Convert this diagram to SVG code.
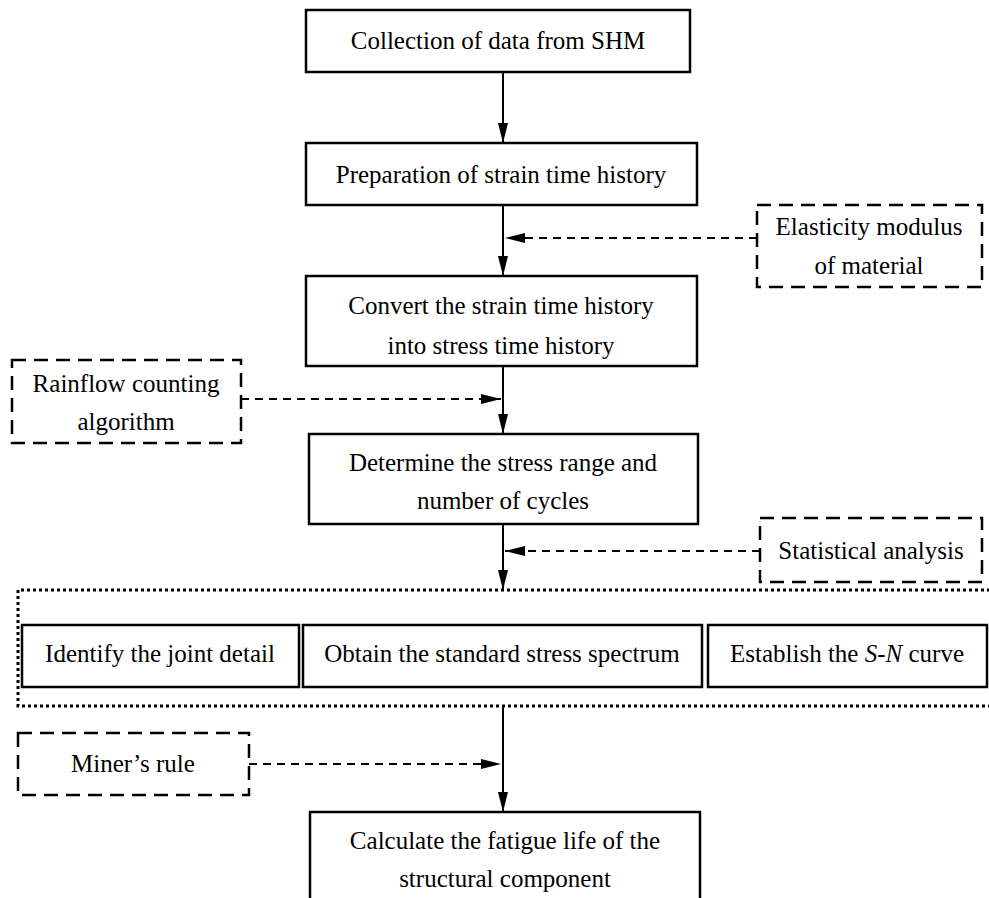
<svg xmlns="http://www.w3.org/2000/svg" width="989" height="898" viewBox="0 0 989 898">
<style>
  .box{fill:#fff;stroke:#000;stroke-width:2.5}
  .dbox{fill:none;stroke:#000;stroke-width:2.5;stroke-dasharray:14 8}
  .dot{fill:none;stroke:#000;stroke-width:3;stroke-dasharray:3 3}
  .t{font-family:"Liberation Serif","Times New Roman",serif;font-size:25px;fill:#000;text-anchor:middle}
  .solid{stroke:#000;stroke-width:2;fill:none}
  .dash{stroke:#000;stroke-width:2;fill:none;stroke-dasharray:8 6}
</style>
<defs>
  <marker id="ah" markerUnits="userSpaceOnUse" markerWidth="20" markerHeight="10" refX="20" refY="5" orient="auto">
    <path d="M0,0 L20,5 L0,10 z" fill="#000"/>
  </marker>
</defs>
<rect width="989" height="898" fill="#fff"/>
<g id="group-dotted">
  <path class="dot" d="M990,590 H18 V706 H990"/>
</g>
<g id="n1"><rect class="box" x="306" y="10" width="384" height="62"/><text class="t" x="498" y="49">Collection of data from SHM</text></g>
<g id="n2"><rect class="box" x="306" y="143" width="391" height="62"/><text class="t" x="501" y="183">Preparation of strain time history</text></g>
<g id="n3"><rect class="box" x="306" y="276" width="391" height="90"/><text class="t" x="501" y="314">Convert the strain time history</text><text class="t" x="501" y="354">into stress time history</text></g>
<g id="n4"><rect class="box" x="309" y="434" width="389" height="90"/><text class="t" x="503" y="471">Determine the stress range and</text><text class="t" x="503" y="509">number of cycles</text></g>
<g id="n5"><rect class="box" x="310" y="812" width="390" height="100"/><text class="t" x="505" y="849">Calculate the fatigue life of the</text><text class="t" x="505" y="887">structural component</text></g>
<g id="e1"><rect class="dbox" x="757" y="205" width="225" height="82"/><text class="t" x="869" y="235">Elasticity modulus</text><text class="t" x="869" y="274">of material</text></g>
<g id="e2"><rect class="dbox" x="12" y="360" width="229" height="83"/><text class="t" x="126" y="392">Rainflow counting</text><text class="t" x="126" y="430">algorithm</text></g>
<g id="e3"><rect class="dbox" x="760" y="518" width="222" height="64"/><text class="t" x="871" y="559">Statistical analysis</text></g>
<g id="e4"><rect class="dbox" x="18" y="733" width="231" height="62"/><text class="t" x="133" y="772">Miner’s rule</text></g>
<g id="a"><rect class="box" x="22" y="625" width="277" height="62"/><text class="t" x="160" y="662">Identify the joint detail</text></g>
<g id="b"><rect class="box" x="303" y="625" width="399" height="62"/><text class="t" x="502" y="662">Obtain the standard stress spectrum</text></g>
<g id="c"><rect class="box" x="708" y="625" width="279" height="62"/><text class="t" x="847" y="662">Establish the <tspan font-style="italic">S</tspan>-<tspan font-style="italic">N</tspan> curve</text></g>
<g id="connectors">
  <line class="solid" x1="503" y1="72" x2="503" y2="143" marker-end="url(#ah)"/>
  <line class="solid" x1="503" y1="205" x2="503" y2="276" marker-end="url(#ah)"/>
  <line class="solid" x1="503" y1="366" x2="503" y2="434" marker-end="url(#ah)"/>
  <line class="solid" x1="503" y1="524" x2="503" y2="590" marker-end="url(#ah)"/>
  <line class="solid" x1="503" y1="706" x2="503" y2="812" marker-end="url(#ah)"/>
  <line class="dash" x1="757" y1="238" x2="505" y2="238" marker-end="url(#ah)"/>
  <line class="dash" x1="241" y1="399" x2="501" y2="399" marker-end="url(#ah)"/>
  <line class="dash" x1="760" y1="551" x2="505" y2="551" marker-end="url(#ah)"/>
  <line class="dash" x1="249" y1="764" x2="501" y2="764" marker-end="url(#ah)"/>
</g>
</svg>
